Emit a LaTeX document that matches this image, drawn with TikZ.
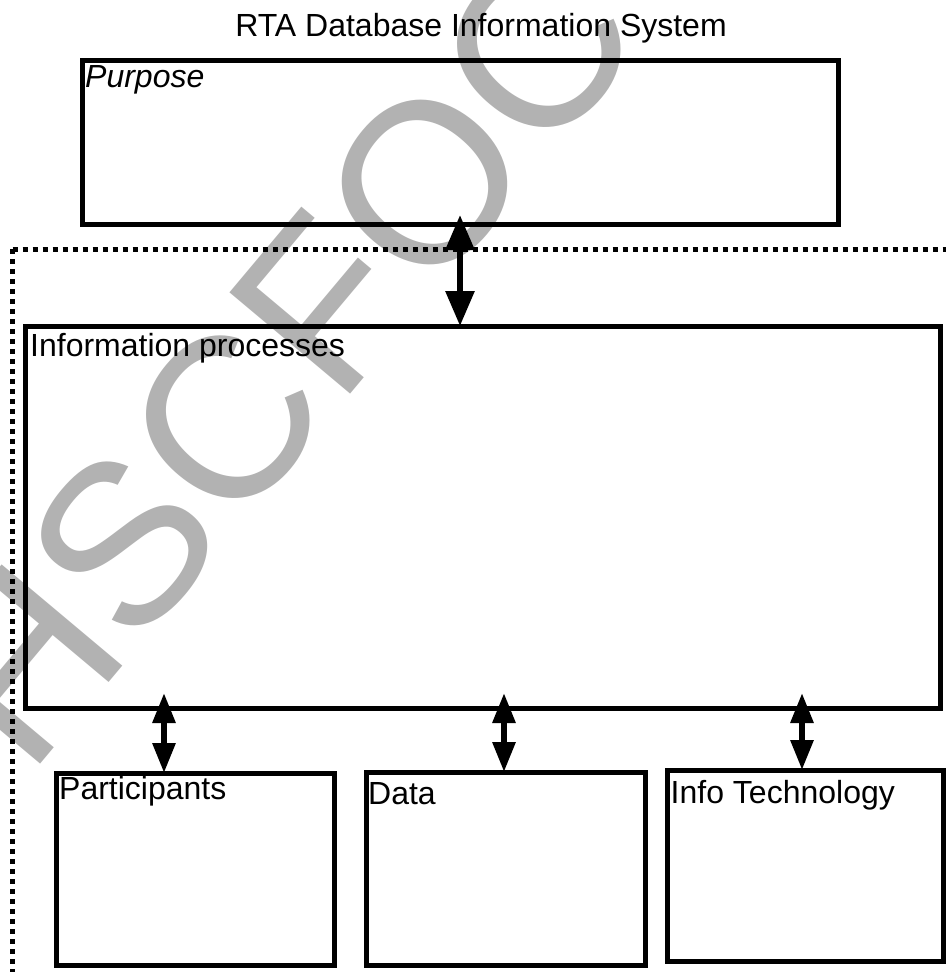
\documentclass[tikz,border=0pt]{standalone}
\usepackage{fontspec}
\setmainfont{Liberation Sans}
\usetikzlibrary{arrows.meta}
\tikzset{>={Triangle[length=30pt,width=22pt]}}
\tikzset{box/.style={draw,line width=5pt,inner sep=0pt,outer sep=0pt},
	lbl/.style={anchor=north west,inner sep=3pt,font=\fontsize{32}{38}\selectfont}}

\begin{document}
\begin{tikzpicture}[x=1pt,y=-1pt]
	\useasboundingbox (0,0) rectangle (946,972);
	\clip (0,0) rectangle (946,972);
	\node[rotate=50,anchor=base west,inner sep=0pt,text=black!30,font=\fontsize{229}{229}\selectfont] (mark) at (28,779) {HSCFOC};
	\node[anchor=base,font=\fontsize{32}{38}\selectfont] (title) at (481,36) {RTA Database Information System};
	\node[box,minimum width=756pt,minimum height=164pt] (purpose) at (460,142) {};
	\node[box,minimum width=915pt,minimum height=382pt] (procs) at (482.5,517) {};
	\node[box,minimum width=278pt,minimum height=192pt] (part) at (195,869) {};
	\node[box,minimum width=279pt,minimum height=193pt] (data) at (505.5,868.5) {};
	\node[box,minimum width=276pt,minimum height=191pt] (tech) at (805,865.5) {};
	\node[lbl,inner ysep=5pt,font=\fontsize{32}{38}\selectfont\itshape] (purposetxt) at (purpose.north west) {Purpose};
	\node[lbl,inner xsep=5pt,inner ysep=7pt] (procstxt) at (procs.north west) {Information processes};
	\node[lbl] (parttxt) at (part.north west) {Participants};
	\node[lbl,inner xsep=2pt,inner ysep=10pt] (datatxt) at (data.north west) {Data};
	\node[lbl,inner xsep=3.5pt,inner ysep=10pt] (techtxt) at (tech.north west) {Info Technology};
	% system boundary
	\draw[line width=5pt,dash pattern=on 5pt off 5pt] (12.5,249) -- (946,249);
	\draw[line width=5pt,dash pattern=on 5pt off 5pt] (12.5,249) -- (12.5,972);
	\draw[<->,>={Triangle[length=35pt,width=28pt]},line width=6pt] ([yshift=9pt]purpose.south) -- (purpose.south |- procs.north);
	\foreach \n/\s in {part/-31,data/-1.5,tech/-3}
		\draw[<->,line width=6pt] ([xshift=\s pt,yshift=15pt]procs.south -| \n.north) -- ([xshift=\s pt]\n.north);
\end{tikzpicture}
\end{document}
